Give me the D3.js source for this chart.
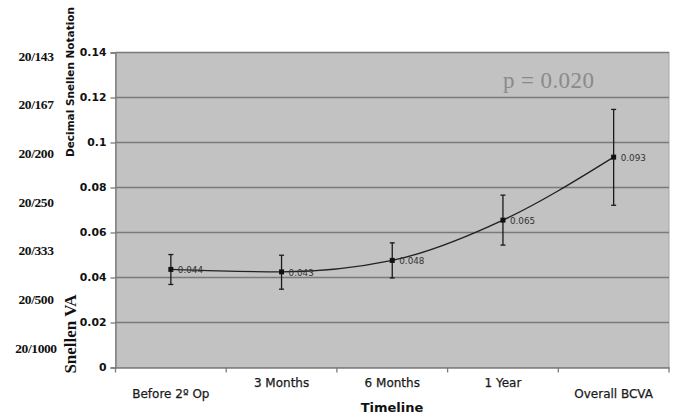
<!DOCTYPE html>
<html><head><meta charset="utf-8">
<script src="https://cdn.jsdelivr.net/npm/d3@7"></script>
<style>body{margin:0;background:#fff}svg{display:block}</style>
</head><body>
<svg id="c" width="675" height="415"></svg>
<script>
const categories = ["Before 2º Op", "3 Months", "6 Months", "1 Year", "Overall BCVA"];
const values = [0.044, 0.043, 0.048, 0.065, 0.093];
const plotValues = [0.0436, 0.0425, 0.0476, 0.0655, 0.0935];
const upper = [0.0502, 0.0499, 0.0554, 0.0766, 0.1147];
const lower = [0.0369, 0.0348, 0.0398, 0.0544, 0.0721];
const yTicks = [0, 0.02, 0.04, 0.06, 0.08, 0.1, 0.12, 0.14];
const snellenLabels = ["20/143", "20/167", "20/200", "20/250", "20/333", "20/500", "20/1000"];

const svg = d3.select("#c");
const m = {left: 115.5, right: 669, top: 52.5, bottom: 367.5};
const x = d3.scaleBand().domain(categories).range([m.left, m.right]);
const y = d3.scaleLinear().domain([0, 0.14]).range([m.bottom, m.top]);

svg.append("rect").attr("x", m.left).attr("y", m.top)
  .attr("width", m.right - m.left).attr("height", m.bottom - m.top)
  .attr("fill", "#c2c2c2").attr("stroke", "#a8a8a8").attr("stroke-width", 1);

// gridlines
svg.append("g").selectAll("line").data(yTicks.filter(d => d > 0)).join("line")
  .attr("x1", m.left).attr("x2", m.right)
  .attr("y1", d => y(d)).attr("y2", d => y(d))
  .attr("stroke", "#7a7a7a").attr("stroke-width", 1.3);

// y axis
const yAxis = svg.append("g").attr("transform", `translate(${m.left},0)`)
  .call(d3.axisLeft(y).tickValues(yTicks).tickSize(5).tickPadding(4)
    .tickFormat(d => d3.format("")(+d.toFixed(2))));
yAxis.select(".domain").attr("stroke", "#7a7a7a").attr("stroke-width", 1.3);
yAxis.selectAll(".tick line").attr("stroke", "#7a7a7a").attr("stroke-width", 1.3);
yAxis.selectAll("text").attr("font-family", "DejaVu Sans").attr("font-weight", "bold")
  .attr("font-size", 10.8).attr("fill", "#111");

// x axis
const xAxis = svg.append("g").attr("transform", `translate(0,${m.bottom})`)
  .call(d3.axisBottom(x).tickSize(0).tickFormat(""));
xAxis.select(".domain").attr("stroke", "#7a7a7a").attr("stroke-width", 1.3);
const bounds = categories.map(c => x(c)).concat([m.right]);
svg.append("g").selectAll("line").data(bounds).join("line")
  .attr("x1", d => d).attr("x2", d => d)
  .attr("y1", m.bottom).attr("y2", m.bottom + 5)
  .attr("stroke", "#7a7a7a").attr("stroke-width", 1.3);
svg.append("g").selectAll("text").data(categories).join("text")
  .attr("x", d => x(d) + x.bandwidth() / 2)
  .attr("y", (d, i) => (i === 0 || i === categories.length - 1) ? 398 : 387)
  .attr("text-anchor", "middle")
  .attr("font-family", "DejaVu Sans").attr("font-size", 12).attr("fill", "#1a1a1a")
  .attr("stroke", "#1a1a1a").attr("stroke-width", 0.25)
  .text(d => d);

svg.append("text").attr("x", 392).attr("y", 412).attr("text-anchor", "middle")
  .attr("font-family", "DejaVu Sans").attr("font-weight", "bold").attr("font-size", 13)
  .attr("fill", "#111").text("Timeline");

// Snellen labels
const ys = d3.scalePoint().domain(snellenLabels).range([56, 348]);
svg.append("g").selectAll("text").data(snellenLabels).join("text")
  .attr("x", 36).attr("y", d => ys(d) + 4.5).attr("text-anchor", "middle")
  .attr("font-family", "Liberation Serif").attr("font-weight", "bold")
  .attr("font-size", 13.5).attr("letter-spacing", -0.4).attr("fill", "#111")
  .text(d => d);

svg.append("text").attr("transform", "translate(74,82) rotate(-90)")
  .attr("text-anchor", "middle").attr("font-family", "DejaVu Sans").attr("font-weight", "bold")
  .attr("font-size", 10.5).attr("fill", "#111").text("Decimal Snellen Notation");
svg.append("text").attr("transform", "translate(76,334) rotate(-90)")
  .attr("text-anchor", "middle").attr("font-family", "Liberation Serif").attr("font-weight", "bold")
  .attr("font-size", 17).attr("fill", "#111").text("Snellen VA");

// p value
svg.append("text").attr("x", 503).attr("y", 88).attr("font-family", "Liberation Serif")
  .attr("font-size", 23).attr("letter-spacing", 0.4).attr("fill", "#8a8a8a").text("p = 0.020");

// error bars
const cx = d => x(d) + x.bandwidth() / 2;
const eb = svg.append("g").attr("stroke", "#1a1a1a").attr("stroke-width", 1.3);
categories.forEach((c, i) => {
  eb.append("line").attr("x1", cx(c)).attr("x2", cx(c)).attr("y1", y(upper[i])).attr("y2", y(lower[i]));
  eb.append("line").attr("x1", cx(c) - 2.5).attr("x2", cx(c) + 2.5).attr("y1", y(upper[i])).attr("y2", y(upper[i]));
  eb.append("line").attr("x1", cx(c) - 2.5).attr("x2", cx(c) + 2.5).attr("y1", y(lower[i])).attr("y2", y(lower[i]));
});

// line
const line = d3.line().x((d, i) => cx(categories[i])).y(d => y(d)).curve(d3.curveMonotoneX);
svg.append("path").datum(plotValues).attr("d", line).attr("fill", "none")
  .attr("stroke", "#222").attr("stroke-width", 1.4);

svg.append("g").selectAll("rect").data(plotValues).join("rect")
  .attr("x", (d, i) => cx(categories[i]) - 2.5).attr("y", d => y(d) - 2.5)
  .attr("width", 5).attr("height", 5).attr("fill", "#111");

svg.append("g").selectAll("text").data(values).join("text")
  .attr("x", (d, i) => cx(categories[i]) + 7).attr("y", (d, i) => y(plotValues[i]) + 4)
  .attr("font-family", "DejaVu Sans").attr("font-size", 8.8).attr("fill", "#333")
  .text(d => d.toFixed(3));
</script>
</body></html>
